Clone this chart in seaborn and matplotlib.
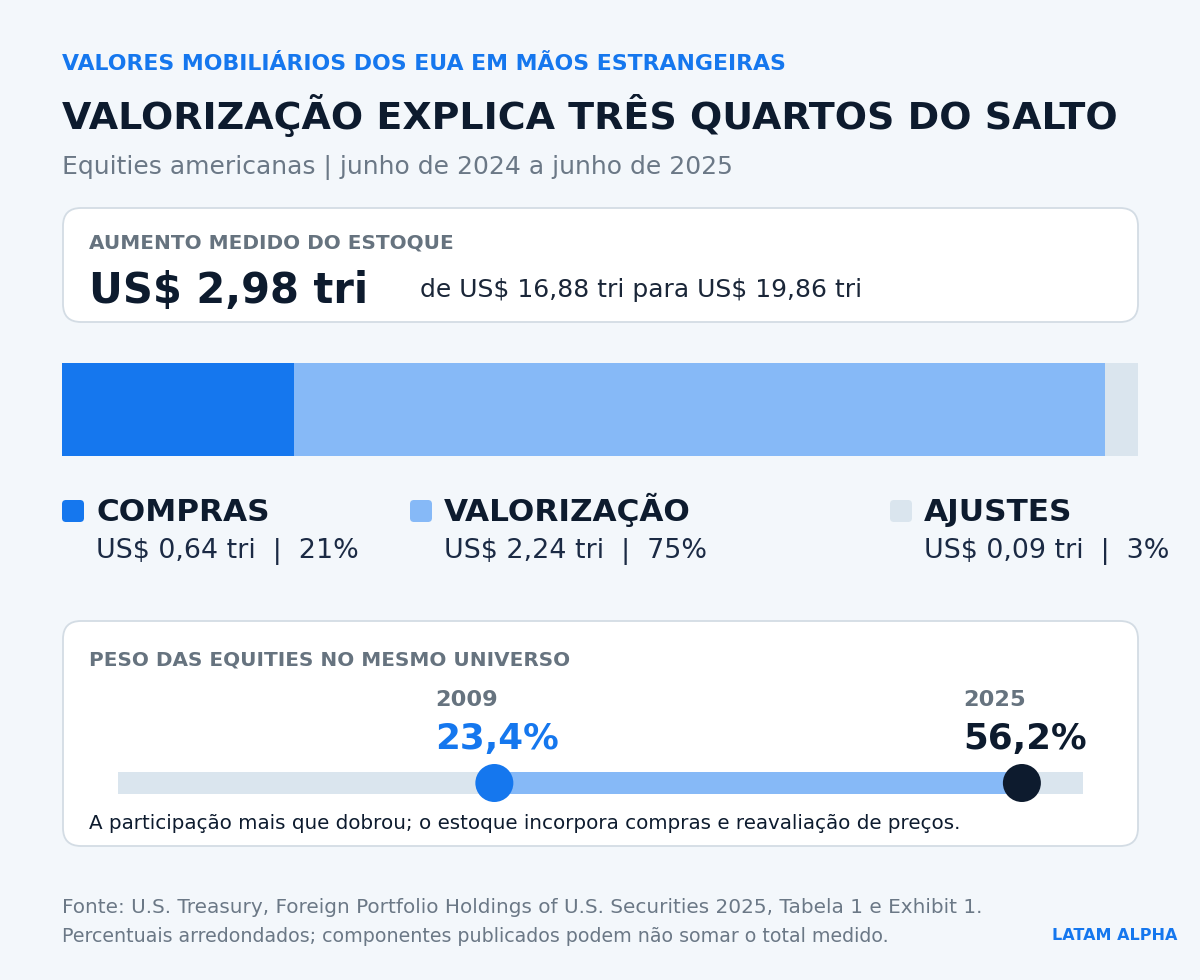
import matplotlib
matplotlib.use("Agg")
import matplotlib.pyplot as plt
import seaborn as sns
from matplotlib.patches import FancyBboxPatch

# data
componentes = ["COMPRAS", "VALORIZAÇÃO", "AJUSTES"]
valores_tri = [0.64, 2.24, 0.09]
percentuais = [21, 75, 3]
anos = ["2009", "2025"]
peso_equities = [23.4, 56.2]
escala_max = 60  # fim da trilha em %

sns.set_theme(style="white")
plt.rcParams["font.family"] = ["DejaVu Sans"]

BG = "#f3f7fb"
AZUL = "#1577ee"
AZUL_CLARO = "#86b9f7"
CINZA_CLARO = "#dae5ee"
ESCURO = "#0d1b2e"
CINZA = "#66737f"

fig = plt.figure(figsize=(12, 9.8), dpi=100)
fig.patch.set_facecolor(BG)

# fundo em coordenadas de pixel
bg = fig.add_axes([0, 0, 1, 1], zorder=0)
bg.set_xlim(0, 1200)
bg.set_ylim(980, 0)
bg.axis("off")

def card(x0, y0, x1, y1):
    bg.add_patch(FancyBboxPatch((x0, y0), x1 - x0, y1 - y0,
                                boxstyle="round,pad=0,rounding_size=18",
                                facecolor="white", edgecolor="#d3dce4", lw=1.3))

bg.text(62, 70, "VALORES MOBILIÁRIOS DOS EUA EM MÃOS ESTRANGEIRAS", color=AZUL,
        fontsize=15.8, fontweight="bold", va="baseline")
bg.text(62, 129, "VALORIZAÇÃO EXPLICA TRÊS QUARTOS DO SALTO", color=ESCURO,
        fontsize=27.4, fontweight="bold", va="baseline")
bg.text(62, 174, "Equities americanas | junho de 2024 a junho de 2025", color="#6b7886",
        fontsize=18, va="baseline")

# card do aumento
card(63, 208, 1138, 322)
bg.text(89, 248, "AUMENTO MEDIDO DO ESTOQUE", color=CINZA, fontsize=14.4,
        fontweight="bold", va="baseline")
bg.text(89, 303, "US$ 2,98 tri", color=ESCURO, fontsize=30, fontweight="bold",
        va="baseline")
bg.text(420, 297, r"de US\$ 16,88 tri para US\$ 19,86 tri", color="#1a2638",
        fontsize=18, va="baseline")

# barra empilhada
cores = [AZUL, AZUL_CLARO, CINZA_CLARO]
bar_ax = fig.add_axes([62 / 1200, 1 - 456 / 980, 1076 / 1200, 93 / 980], zorder=2)
acum = [sum(valores_tri[:i + 1]) for i in range(len(valores_tri))]
for v, c in reversed(list(zip(acum, cores))):
    sns.barplot(x=[v], y=[0], orient="h", color=c, width=1, saturation=1,
                errorbar=None, linewidth=0, ax=bar_ax)
bar_ax.set_xlim(0, acum[-1])
bar_ax.set_ylim(-0.5, 0.5)
bar_ax.axis("off")

# legenda
leg_x = [62, 410, 890]
for nome, v, p, c, x in zip(componentes, valores_tri, percentuais, cores, leg_x):
    bg.add_patch(FancyBboxPatch((x, 500), 22, 22, boxstyle="round,pad=0,rounding_size=4",
                                facecolor=c, edgecolor="none"))
    bg.text(x + 34, 521, nome, color=ESCURO, fontsize=22.4, fontweight="bold",
            va="baseline")
    txt = f"US$ {v:.2f} tri  |  {p}%".replace(".", ",")
    bg.text(x + 34, 558, txt, color="#1b2a44", fontsize=19.4, va="baseline")

# card do peso
card(63, 621, 1138, 846)
bg.text(89, 665, "PESO DAS EQUITIES NO MESMO UNIVERSO", color=CINZA, fontsize=14.4,
        fontweight="bold", va="baseline")
bg.text(89, 829, "A participação mais que dobrou; o estoque incorpora compras e reavaliação de preços.",
        color=ESCURO, fontsize=14.3, va="baseline")

trk = fig.add_axes([118 / 1200, 1 - 823 / 980, 965 / 1200, 80 / 980], zorder=2)
trk.set_facecolor("none")
lw = 22 * 0.72
trk.plot([0, escala_max], [0, 0], color=CINZA_CLARO, lw=lw, solid_capstyle="butt")
trk.plot(peso_equities, [0, 0], color=AZUL_CLARO, lw=lw, solid_capstyle="butt")
sns.scatterplot(x=peso_equities, y=[0, 0], hue=anos, palette=[AZUL, ESCURO],
                s=(38 * 0.72) ** 2, linewidth=0, legend=False, ax=trk, zorder=3,
                clip_on=False)
for ano, v, c in zip(anos, peso_equities, [AZUL, ESCURO]):
    trk.annotate(ano, xy=(v, 0), xytext=(-59, 77), textcoords="offset pixels",
                 color=CINZA, fontsize=16.2, fontweight="bold", va="baseline")
    trk.annotate(f"{v:.1f}%".replace(".", ","), xy=(v, 0), xytext=(-59, 34),
                 textcoords="offset pixels", color=c, fontsize=25.7,
                 fontweight="bold", va="baseline")
trk.set_xlim(0, escala_max)
trk.set_ylim(-40, 40)
trk.axis("off")

# rodape
bg.text(62, 913, "Fonte: U.S. Treasury, Foreign Portfolio Holdings of U.S. Securities 2025, Tabela 1 e Exhibit 1.",
        color="#6b7886", fontsize=14.4, va="baseline")
bg.text(62, 942, "Percentuais arredondados; componentes publicados podem não somar o total medido.",
        color="#6b7886", fontsize=13.7, va="baseline")
bg.text(1177, 940, "LATAM ALPHA", color=AZUL, fontsize=11.5, fontweight="bold",
        ha="right", va="baseline")

fig.savefig("out.png", dpi=100, facecolor=BG)
